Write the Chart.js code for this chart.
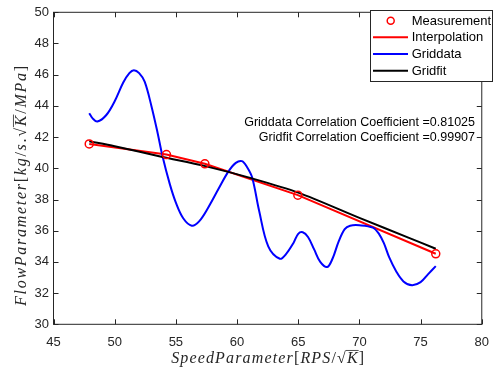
<!DOCTYPE html>
<html>
<head>
<meta charset="utf-8">
<script src="https://cdn.jsdelivr.net/npm/chart.js@4/dist/chart.umd.min.js"></script>
<style>
html,body{margin:0;padding:0;background:#fff;}
#wrap{width:499px;height:374px;}
</style>
</head>
<body>
<div id="wrap"><canvas id="c" width="499" height="374"></canvas></div>
<script>
// ---- data ----
const measSpeed = [47.92, 54.23, 57.37, 64.97, 76.24];
const measFlow  = [41.56, 40.88, 40.29, 38.28, 34.52];

const interpSpeed = [47.92, 54.23, 57.37, 64.97, 76.24];
const interpFlow  = [41.56, 40.88, 40.29, 38.28, 34.52];

const griddataSpeed = [47.92, 48.2, 48.58, 49.3, 50.0, 50.7, 51.2, 51.57, 52.0, 52.45, 53.0, 53.5, 53.9, 54.5, 55.0, 55.6, 56.3, 56.9, 57.65, 58.5, 59.3, 59.9, 60.4, 60.8, 61.24, 61.8, 62.55, 63.5, 64.0, 64.6, 65.0, 65.37, 65.8, 66.3, 66.8, 67.37, 67.8, 68.3, 68.8, 69.24, 70.0, 71.1, 71.6, 72.0, 72.43, 73.0, 73.6, 74.3, 75.0, 75.6, 76.24];
const griddataFlow  = [43.53, 43.2, 43.0, 43.4, 44.3, 45.5, 46.1, 46.29, 46.1, 45.55, 44.0, 42.3, 40.8, 39.0, 37.8, 36.8, 36.32, 36.6, 37.49, 38.7, 39.8, 40.35, 40.46, 40.1, 39.4, 37.3, 35.0, 34.2, 34.5, 35.2, 35.8, 35.9, 35.6, 34.8, 34.0, 33.67, 34.2, 35.3, 36.1, 36.32, 36.35, 36.2, 35.8, 35.2, 34.3, 33.4, 32.75, 32.5, 32.7, 33.2, 33.73];

const gridfitSpeed = [47.92, 50.0, 53.9, 57.4, 61.0, 65.0, 70.0, 74.0, 76.24];
const gridfitFlow  = [41.73, 41.41, 40.73, 40.14, 39.4, 38.44, 36.82, 35.56, 34.84];

const xTickMin = 45, xTickMax = 80, xTickStep = 5;
const yTickMin = 30, yTickMax = 50, yTickStep = 2;

const seriesNames = ['Measurement', 'Interpolation', 'Griddata', 'Gridfit'];
const annotationLines = ['Griddata Correlation Coefficient =0.81025', 'Gridfit Correlation Coefficient =0.99907'];

function pts(xs, ys){ return xs.map((x,i)=>({x:x, y:ys[i]})); }

const AX = '#262626';
const SANS = '"Liberation Sans", Arial, sans-serif';
const SERIF = '"Liberation Serif", "Times New Roman", serif';

// draws a run list char by char, spread to a target width
function drawMath(ctx, runs, size, targetW){
  const chars = [];
  runs.forEach(r=>{
    ctx.font = (r.it ? 'italic ' : '') + size + 'px ' + SERIF;
    for (const ch of r.t){
      chars.push({ch:ch, it:r.it, over:r.over, w:ctx.measureText(ch).width});
    }
  });
  const natural = chars.reduce((s,c)=>s+c.w, 0);
  const gap = chars.length > 1 ? (targetW - natural)/(chars.length - 1) : 0;
  let x = -targetW/2;
  ctx.textBaseline = 'alphabetic';
  ctx.textAlign = 'left';
  const base = size*0.33;
  chars.forEach(c=>{
    ctx.font = (c.it ? 'italic ' : '') + size + 'px ' + SERIF;
    ctx.fillText(c.ch, x, base);
    if (c.over){
      ctx.beginPath();
      ctx.lineWidth = 0.8;
      ctx.moveTo(x - 1, base - size*0.8);
      ctx.lineTo(x + c.w + 1, base - size*0.8);
      ctx.stroke();
    }
    x += c.w + gap;
  });
}

const decorPlugin = {
  id: 'decor',
  afterDraw(chart){
    const ctx = chart.ctx;
    const a = chart.chartArea;
    const xs = chart.scales.x, ys = chart.scales.y;
    ctx.save();
    ctx.strokeStyle = AX;
    ctx.lineWidth = 1;
    ctx.strokeRect(a.left, a.top, a.right - a.left, a.bottom - a.top);
    const tl = 5;
    ctx.beginPath();
    xs.ticks.forEach(t=>{
      const p = Math.round(xs.getPixelForValue(t.value)) + 0.5;
      ctx.moveTo(p, a.bottom); ctx.lineTo(p, a.bottom - tl);
      ctx.moveTo(p, a.top); ctx.lineTo(p, a.top + tl);
    });
    ys.ticks.forEach(t=>{
      const p = Math.round(ys.getPixelForValue(t.value)) + 0.5;
      ctx.moveTo(a.left, p); ctx.lineTo(a.left + tl, p);
      ctx.moveTo(a.right, p); ctx.lineTo(a.right - tl, p);
    });
    ctx.stroke();

    ctx.fillStyle = '#000';
    ctx.font = '12.5px ' + SANS;
    ctx.textAlign = 'right';
    ctx.textBaseline = 'middle';
    ctx.fillText(annotationLines[0], 475, 123);
    ctx.fillText(annotationLines[1], 475, 138);

    const lx = 370, ly = 10, lw = 122, lh = 71;
    ctx.fillStyle = '#fff';
    ctx.fillRect(lx, ly, lw, lh);
    ctx.strokeStyle = AX;
    ctx.lineWidth = 1;
    ctx.strokeRect(lx + 0.5, ly + 0.5, lw, lh);
    const rows = [20.7, 37.3, 54, 70.7];
    const colors = ['#ff0000', '#ff0000', '#0000ff', '#000000'];
    rows.forEach((ry, i)=>{
      if (i === 0){
        ctx.beginPath();
        ctx.strokeStyle = colors[i];
        ctx.lineWidth = 1.5;
        ctx.arc(390.7, ry, 3.5, 0, Math.PI*2);
        ctx.stroke();
      } else {
        ctx.beginPath();
        ctx.strokeStyle = colors[i];
        ctx.lineWidth = 2;
        ctx.moveTo(373, ry); ctx.lineTo(408, ry);
        ctx.stroke();
      }
      ctx.fillStyle = '#000';
      ctx.font = '13px ' + SANS;
      ctx.textAlign = 'left';
      ctx.textBaseline = 'middle';
      ctx.fillText(seriesNames[i], 411.7, ry + 0.5);
    });

    ctx.fillStyle = AX;
    ctx.strokeStyle = AX;
    ctx.save();
    ctx.translate((a.left + a.right)/2, 358);
    drawMath(ctx, [
      {t:'SpeedParameter', it:true},
      {t:'[', it:false},
      {t:'RPS', it:true},
      {t:'/', it:false},
      {t:'\u221A', it:false},
      {t:'K', it:true, over:true},
      {t:']', it:false}
    ], 16, 193);
    ctx.restore();

    ctx.save();
    ctx.translate(21, 186);
    ctx.rotate(-Math.PI/2);
    drawMath(ctx, [
      {t:'FlowParameter', it:true},
      {t:'[', it:false},
      {t:'kg', it:true},
      {t:'/', it:false},
      {t:'s', it:true},
      {t:'.', it:false},
      {t:'\u221A', it:false},
      {t:'K', it:true, over:true},
      {t:'/', it:false},
      {t:'MPa', it:true},
      {t:']', it:false}
    ], 16, 240);
    ctx.restore();

    ctx.restore();
  }
};

new Chart(document.getElementById('c'), {
  type: 'line',
  data: {
    datasets: [
      {
        label: seriesNames[0],
        data: pts(measSpeed, measFlow),
        showLine: false,
        borderColor: '#ff0000',
        backgroundColor: 'rgba(0,0,0,0)',
        pointStyle: 'circle',
        pointRadius: 4,
        pointBorderWidth: 1.5,
        order: 0
      },
      {
        label: seriesNames[1],
        data: pts(interpSpeed, interpFlow),
        borderColor: '#ff0000',
        borderWidth: 2,
        pointRadius: 0,
        tension: 0,
        order: 3
      },
      {
        label: seriesNames[2],
        data: pts(griddataSpeed, griddataFlow),
        borderColor: '#0000ff',
        borderWidth: 2,
        pointRadius: 0,
        tension: 0.35,
        order: 2
      },
      {
        label: seriesNames[3],
        data: pts(gridfitSpeed, gridfitFlow),
        borderColor: '#000000',
        borderWidth: 2,
        pointRadius: 0,
        tension: 0.3,
        order: 1
      }
    ]
  },
  options: {
    responsive: false,
    animation: false,
    devicePixelRatio: 1,
    layout: { padding: { left: 0, right: 7.3, top: 10, bottom: 0 } },
    plugins: { legend: { display: false }, tooltip: { enabled: false } },
    scales: {
      x: {
        type: 'linear',
        min: xTickMin, max: xTickMax,
        ticks: { stepSize: xTickStep, color: AX, font: { family: SANS, size: 13 }, padding: 10, maxRotation: 0 },
        grid: { display: false, drawTicks: false },
        border: { display: false },
        afterFit(s){ s.height = 49.7; }
      },
      y: {
        type: 'linear',
        min: yTickMin, max: yTickMax,
        ticks: { stepSize: yTickStep, color: AX, font: { family: SANS, size: 13 }, padding: 4.5 },
        grid: { display: false, drawTicks: false },
        border: { display: false },
        afterFit(s){ s.width = 53.5; }
      }
    }
  },
  plugins: [decorPlugin]
});
</script>
</body>
</html>
